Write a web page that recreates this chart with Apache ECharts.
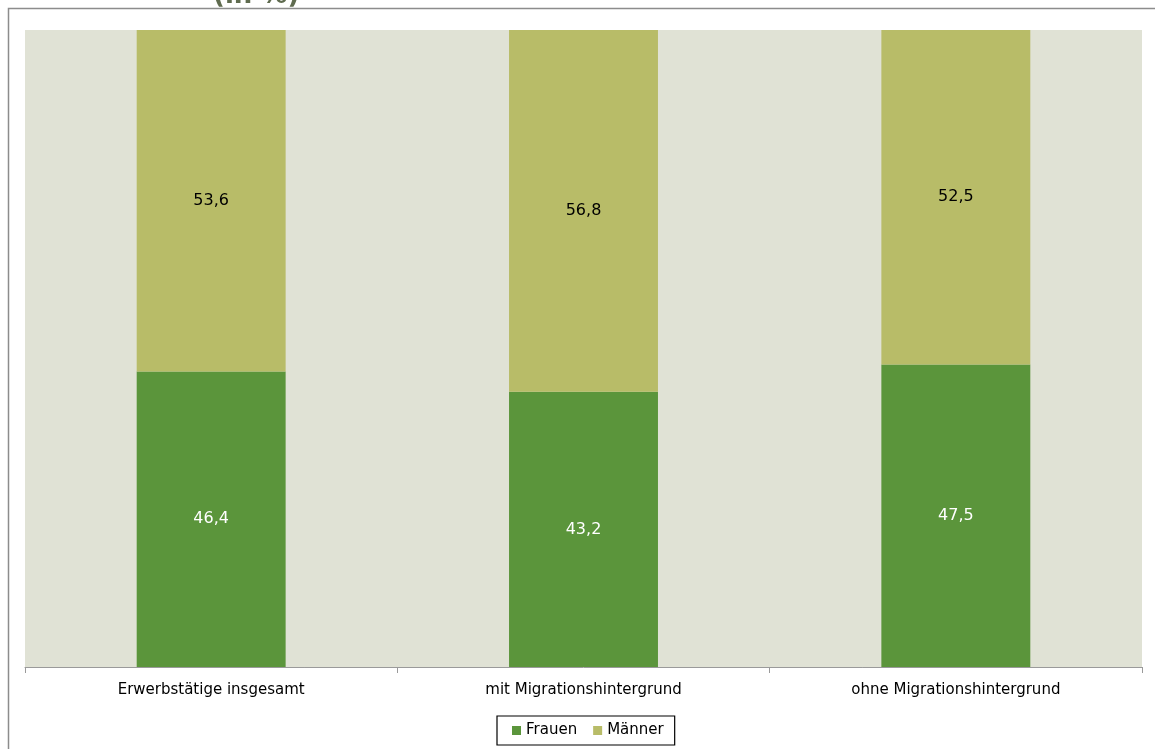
<!DOCTYPE html>
<html><head><meta charset="utf-8">
<script src="https://cdn.jsdelivr.net/npm/echarts@6/dist/echarts.min.js"></script>
<style>html,body{margin:0;padding:0;background:#fff}#c{width:1155px;height:749px}</style>
</head><body><div id="c"></div>
<script>
const categories = ['Erwerbstätige insgesamt', 'mit Migrationshintergrund', 'ohne Migrationshintergrund'];
const frauen = [46.4, 43.2, 47.5];
const maenner = [53.6, 56.8, 52.5];
const fmt = v => String(v.value.toFixed(1)).replace('.', ',');
const chart = echarts.init(document.getElementById('c'));
chart.setOption({
  animation: false,
  graphic: [
    {type: 'rect', shape: {x: 8.5, y: 8.5, width: 1160, height: 760}, style: {fill: 'none', stroke: '#8c8c8c', lineWidth: 1.5}, z: -10},
    {type: 'text', left: 213, top: -17, style: {text: '(in %)', font: 'bold 26px "DejaVu Sans"', fill: '#5f6b4f'}}
  ],
  grid: {left: 25, right: 13, top: 30, bottom: 82, show: true, backgroundColor: '#e0e2d5', borderWidth: 0},
  legend: {
    bottom: 4, left: 497, itemWidth: 9, itemHeight: 9, itemGap: 16,
    padding: [7, 11, 7, 15], borderColor: '#000', borderWidth: 1.2, borderRadius: 0,
    textStyle: {fontFamily: 'DejaVu Sans', fontSize: 15, color: '#000'},
    icon: 'rect', data: ['Frauen', 'Männer']
  },
  xAxis: {
    type: 'category', data: categories,
    axisLine: {lineStyle: {color: '#9a9a9a', width: 1}},
    axisTick: {show: true, length: 6, lineStyle: {color: '#9a9a9a'}},
    axisLabel: {fontFamily: 'DejaVu Sans', fontSize: 15, color: '#000', margin: 16}
  },
  yAxis: {type: 'value', min: 0, max: 100, show: false, splitLine: {show: false}},
  series: [
    {name: 'Frauen', type: 'bar', stack: 's', data: frauen, barWidth: '40%',
     itemStyle: {color: '#5b953b'},
     label: {show: true, position: 'inside', formatter: fmt, color: '#fff', fontFamily: 'DejaVu Sans', fontSize: 16}},
    {name: 'Männer', type: 'bar', stack: 's', data: maenner, barWidth: '40%',
     itemStyle: {color: '#b8bc68'},
     label: {show: true, position: 'inside', formatter: fmt, color: '#000', fontFamily: 'DejaVu Sans', fontSize: 16}}
  ]
});
</script></body></html>
